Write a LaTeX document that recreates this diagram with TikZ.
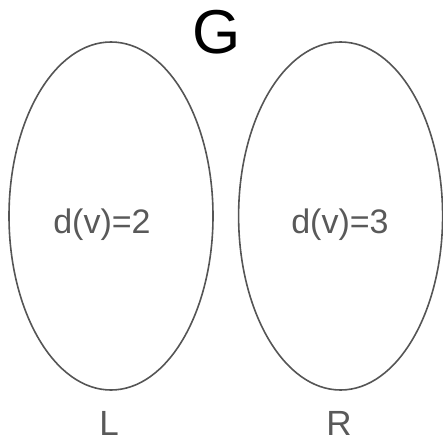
\documentclass[tikz,border=0pt]{standalone}
\usepackage{fontspec}
\setmainfont{Liberation Sans}
\usetikzlibrary{positioning,shapes.geometric}
\definecolor{setgray}{RGB}{85,85,85}
\definecolor{labelgray}{RGB}{89,89,89}
\begin{document}
\begin{tikzpicture}[x=1pt,y=-1pt, every node/.style={inner sep=0pt},
  part/.style={draw=setgray,line width=1.6pt,ellipse,minimum width=204pt,minimum height=348pt},
  deg/.style={text=labelgray,font=\fontsize{34}{40}\selectfont,anchor=base},
  side/.style={text=labelgray,font=\fontsize{35}{42}\selectfont,anchor=base}]
\useasboundingbox (0,0) rectangle (443,444);
% the two halves of the graph
\node[part] (l) at (111,216) {};
\node[part,right=24pt of l] (r) {};
\node[font=\fontsize{62}{70}\selectfont,anchor=base] (g) at (217,53) {G};
\node[deg] (dl) at (102,233) {d(v)=2};
\node[deg] (dr) at (340,233) {d(v)=3};
\node[side] (ln) at (109,435) {L};
\node[side] (rn) at (339,435) {R};
\end{tikzpicture}
\end{document}
